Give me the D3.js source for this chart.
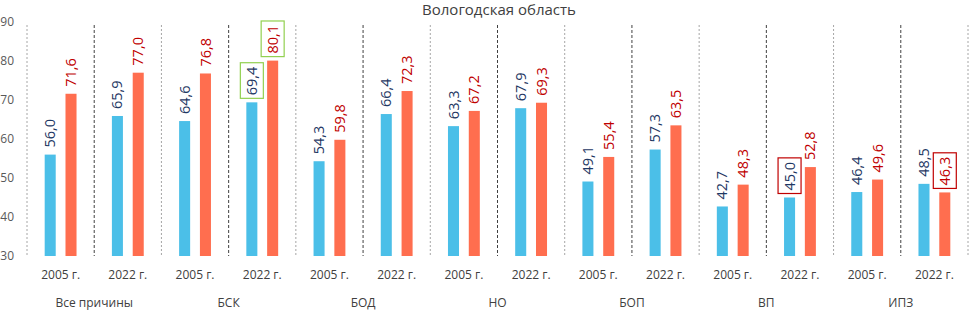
<!DOCTYPE html>
<html>
<head>
<meta charset="utf-8">
<script src="https://cdn.jsdelivr.net/npm/d3@7"></script>
<style>
  html, body { margin: 0; padding: 0; background: #fff; }
  svg { display: block; font-family: "Open Sans", sans-serif; }
</style>
</head>
<body>
<div id="chart"></div>
<script>
(function() {
    'use strict';

    var title = 'Вологодская область';
    var categories = ['Все причины', 'БСК', 'БОД', 'НО', 'БОП', 'ВП', 'ИПЗ'];
    var years = ['2005 г.', '2022 г.'];
    // 14 slots: for each category, 2005 then 2022
    var blueValues = [56.0, 65.9, 64.6, 69.4, 54.3, 66.4, 63.3, 67.9, 49.1, 57.3, 42.7, 45.0, 46.4, 48.5];
    var redValues = [71.6, 77.0, 76.8, 80.1, 59.8, 72.3, 67.2, 69.3, 55.4, 63.5, 48.3, 52.8, 49.6, 46.3];
    var yTicks = [30, 40, 50, 60, 70, 80, 90];
    // boxed labels: [slot index, series, box colour]
    var highlights = [[3, 'blue', '#92d050'], [3, 'red', '#92d050'], [11, 'blue', '#c00000'], [13, 'red', '#c00000']];

    var width = 970, height = 310;
    var left = 27, right = 968, top = 22, bottom = 256;

    var colors = { blue: '#4bbfe8', red: '#ff6e4f' };
    var labelColors = { blue: '#1f3864', red: '#c00000' };

    var slots = [];
    categories.forEach(function(c, ci) {
        years.forEach(function(y, yi) {
            var i = ci * 2 + yi;
            slots.push({ id: i, cat: c, year: y, blue: blueValues[i], red: redValues[i] });
        });
    });

    var svg = d3.select('#chart').append('svg')
        .attr('width', width)
        .attr('height', height);

    var x = d3.scaleBand()
        .domain(slots.map(function(d) { return d.id; }))
        .range([left, right])
        .padding(0);

    var inner = d3.scaleBand()
        .domain(['blue', 'red'])
        .range([0, x.bandwidth()])
        .paddingInner(0.47)
        .paddingOuter(0.85);

    var y = d3.scaleLinear().domain([30, 90]).range([bottom, top]);

    // title
    svg.append('text')
        .attr('x', 499).attr('y', 15)
        .attr('text-anchor', 'middle')
        .attr('fill', '#404040')
        .style('font-size', '15px')
        .text(title);

    // y axis labels
    svg.selectAll('.ytick')
        .data(yTicks)
        .join('text')
        .attr('class', 'ytick')
        .attr('x', 14)
        .attr('y', function(d) { return y(d); })
        .attr('dy', '0.35em')
        .attr('text-anchor', 'end')
        .attr('fill', '#595959')
        .style('font-size', '12px')
        .text(function(d) { return d; });

    // separators
    var bounds = d3.range(slots.length + 1);
    svg.selectAll('.sep')
        .data(bounds)
        .join('line')
        .attr('class', 'sep')
        .attr('x1', function(i) { return left + i * x.step(); })
        .attr('x2', function(i) { return left + i * x.step(); })
        .attr('y1', top + 3)
        .attr('y2', bottom)
        .attr('stroke', function(i) { return i % 2 ? '#404040' : '#a6a6a6'; })
        .attr('stroke-width', 1)
        .attr('stroke-dasharray', function(i) { return i % 2 ? '3,2' : '2,2'; });

    var g = svg.selectAll('.slot')
        .data(slots)
        .join('g')
        .attr('class', 'slot')
        .attr('transform', function(d) { return 'translate(' + x(d.id) + ',0)'; });

    var gap = 7;

    ['blue', 'red'].forEach(function(s) {
        g.append('rect')
            .attr('x', inner(s))
            .attr('width', inner.bandwidth())
            .attr('y', function(d) { return y(d[s]); })
            .attr('height', function(d) { return y(30) - y(d[s]); })
            .attr('fill', colors[s]);

        g.append('text')
            .attr('class', 'val-' + s)
            .attr('transform', function(d) {
                return 'translate(' + (inner(s) + inner.bandwidth() / 2) + ',' + (y(d[s]) - gap) + ') rotate(-90)';
            })
            .attr('dy', '0.35em')
            .attr('fill', labelColors[s])
            .style('font-size', '14.5px')
            .text(function(d) { return d[s].toFixed(1).replace('.', ','); });
    });

    // boxes around highlighted labels
    highlights.forEach(function(h) {
        var d = slots[h[0]], s = h[1];
        var cx = x(d.id) + inner(s) + inner.bandwidth() / 2;
        var node = g.filter(function(dd) { return dd.id === d.id; }).select('.val-' + s).node();
        var len = node.getComputedTextLength();
        var y0 = y(d[s]) - gap;
        svg.append('rect')
            .attr('x', cx - 11.5)
            .attr('y', y0 - len - 4)
            .attr('width', 23)
            .attr('height', len + 7)
            .attr('fill', 'none')
            .attr('stroke', h[2])
            .attr('stroke-width', 1.2);
    });

    // year labels
    g.append('text')
        .attr('x', x.bandwidth() / 2)
        .attr('y', 279)
        .attr('text-anchor', 'middle')
        .attr('fill', '#404040')
        .style('font-size', '12px')
        .text(function(d) { return d.year; });

    // category labels
    svg.selectAll('.cat')
        .data(categories)
        .join('text')
        .attr('class', 'cat')
        .attr('x', function(c, i) { return left + (i * 2 + 1) * x.step(); })
        .attr('y', 307)
        .attr('text-anchor', 'middle')
        .attr('fill', '#404040')
        .style('font-size', '12px')
        .text(function(c) { return c; });
})();
</script>
</body>
</html>
